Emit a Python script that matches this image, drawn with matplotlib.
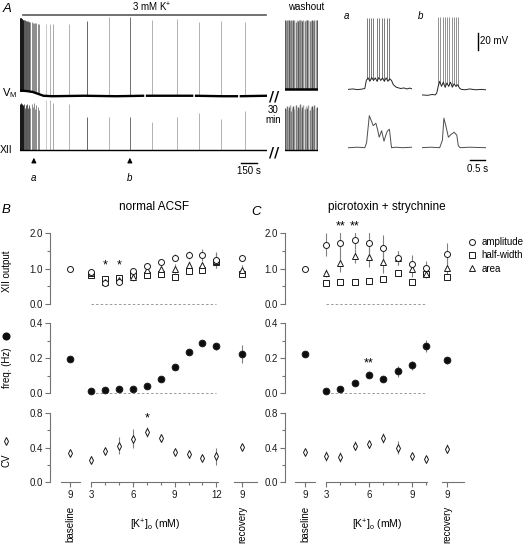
# Recreation of the K+ / XII output figure (panels A, B, C)
import numpy as np
import matplotlib
matplotlib.use("Agg")
import matplotlib.pyplot as plt
import matplotlib.transforms as mtransforms
from matplotlib.lines import Line2D

plt.rcParams['font.family'] = ['Liberation Sans', 'DejaVu Sans']
plt.rcParams['mathtext.fontset'] = 'custom'
plt.rcParams['mathtext.rm'] = 'Liberation Sans'
plt.rcParams['mathtext.it'] = 'Liberation Sans:italic'

W, H = 529, 548

# ---------------- panel A data ----------------
# main recording, time in s
burst_t = [0, 3, 6, 9, 12, 15, 19, 23, 27, 31, 36, 41, 47, 53, 59, 66, 73, 81,
           89, 98, 108, 118, 129, 140, 152, 165, 178]
burst_vm_peak = [17, 17, 16.5, 16.5, 16, 16, 15.5, 15.5, 15, 15, 15, 14.5, 14.5, 14,
                 14, 13.5, 13.5, 13, 13, 12.5, 12.5, 12, 12, 11.5, 11.5, 11, 11]
burst_xii_peak = [0.92, 0.9, 0.94, 0.88, 0.92, 0.86, 0.9, 0.93, 0.85, 0.9, 0.88, 0.92,
                  0.84, 0.9, 0.86, 0.93, 0.85, 0.88, 0.9, 0.84, 0.92, 0.86, 0.95, 0.82,
                  0.9, 0.86, 0.8]
late_t = [245, 280, 310, 460, 625, 830, 1030, 1240, 1470, 1680, 1885, 2110]
late_vm_peak = [11, 11, 10, 11, 14, 18, 17.5, 14.5, 15.5, 12.7, 13.7, 12.7]
late_xii_peak = [1.0, 1.0, 0.95, 0.93, 0.67, 0.67, 0.67, 0.57, 0.67, 0.75, 0.62, 0.78]
vm_base_t = [0, 60, 120, 170, 220, 300, 600, 900, 1165, 1172, 1180, 1500, 1625, 1632,
             1640, 1900, 2045, 2052, 2060, 2316]
vm_base_v = [-60, -60.5, -61.5, -63.5, -65.5, -66, -65.5, -66, -65.5, np.nan, -65.5,
             -65.5, -65.5, np.nan, -65.5, -66, -66, np.nan, -66, -65.5]

# washout recording
wash_t = [3, 12, 22, 30, 41, 50, 58, 70, 79, 88, 100, 110, 121, 130, 140, 152, 162,
          172, 185, 196, 206, 218, 230, 241, 252, 264, 275, 288, 298, 306]
wash_vm_peak = [15, 14, 15, 14.5, 15, 13.5, 15, 14, 15, 14.5, 13, 15, 14, 15, 14.5,
                15, 13.5, 15, 14, 15, 14.5, 15, 14, 13.5, 15, 14, 15, 14.5, 15, 14]
wash_xii_peak = [0.85, 0.82, 0.88, 0.8, 0.86, 0.9, 0.78, 0.84, 0.88, 0.82, 0.9, 0.8,
                 0.86, 0.84, 0.92, 0.8, 0.86, 0.9, 0.82, 0.88, 0.84, 0.9, 0.8, 0.86,
                 0.88, 0.82, 0.9, 0.84, 0.86, 0.8]

# expanded bursts a and b (time in s, Vm in mV, XII in a.u.)
ins_a_t = [0, 0.15, 0.3, 0.45, 0.55, 0.60, 0.66, 0.72, 0.78, 0.84, 0.90, 0.96, 1.02,
           1.08, 1.14, 1.20, 1.26, 1.32, 1.38, 1.44, 1.50, 1.60, 1.75, 1.85, 1.95,
           2.05, 2.13]
ins_a_v = [-63.5, -63, -63.8, -63.2, -62.5, -53, -50, -54, -49.5, -53, -50, -54, -49.5,
           -53, -50, -54, -50, -54, -51, -53, -58, -61, -62.5, -61.8, -63, -62, -63]
ins_a_spk = [0.63, 0.70, 0.75, 0.83, 0.95, 1.02, 1.11, 1.19, 1.28, 1.36]
ins_b_t = [0, 0.2, 0.35, 0.45, 0.5, 0.55, 0.6, 0.66, 0.72, 0.78, 0.84, 0.9, 0.96,
           1.02, 1.08, 1.14, 1.2, 1.26, 1.32, 1.45, 1.6, 1.8, 2.0, 2.13]
ins_b_v = [-70, -70.5, -69.5, -70, -68, -60, -54, -60, -55, -61, -56, -60, -55, -61,
           -57, -60, -58, -62, -63.5, -64, -63, -64, -63.5, -64]
ins_b_spk = [0.55, 0.61, 0.70, 0.78, 0.85, 0.92, 1.0, 1.08, 1.14, 1.22]
xii_a_t = [0, 0.3, 0.55, 0.61, 0.70, 0.76, 0.83, 0.92, 0.98, 1.03, 1.11, 1.19, 1.25,
           1.30, 1.37, 1.44, 1.6, 1.8, 2.13]
xii_a_v = [0, 0.01, 0, 0.1, 0.64, 0.55, 0.44, 0.49, 0.35, 0.21, 0.34, 0.13, 0.25,
           0.33, 0.37, 0.0, 0.01, 0, 0.01]
xii_b_t = [0, 0.3, 0.6, 0.69, 0.74, 0.80, 0.83, 0.89, 0.97, 1.08, 1.17, 1.22, 1.28,
           1.6, 2.13]
xii_b_v = [0, 0.01, 0, 0.15, 0.59, 0.45, 0.37, 0.21, 0.26, 0.31, 0.25, 0.04, 0,
           0.01, 0]

# ---------------- panels B / C data ----------------
conc_b = [3, 4, 5, 6, 7, 8, 9, 10, 11, 12]
amp_b = [0.90, 0.60, 0.63, 0.92, 1.08, 1.18, 1.31, 1.38, 1.39, 1.24]
amp_b_err = [0.1, 0.05, 0.05, 0.08, 0.08, 0.08, 0.1, 0.12, 0.18, 0.22]
hw_b = [0.83, 0.72, 0.74, 0.83, 0.83, 0.85, 0.76, 0.92, 0.97, 1.18]
hw_b_err = [0.05, 0.05, 0.05, 0.05, 0.04, 0.05, 0.06, 0.05, 0.05, 0.1]
area_b = [0.88, 0.62, 0.68, 0.76, 0.95, 1.0, 1.0, 1.11, 1.1, 1.23]
area_b_err = [0.1, 0.06, 0.06, 0.1, 0.08, 0.08, 0.12, 0.1, 0.1, 0.2]
freq_b = [0.012, 0.018, 0.025, 0.027, 0.04, 0.08, 0.148, 0.238, 0.29, 0.27]
freq_b_err = [0.003, 0.004, 0.004, 0.005, 0.006, 0.008, 0.01, 0.01, 0.01, 0.02]
cv_b = [0.26, 0.36, 0.42, 0.50, 0.58, 0.51, 0.35, 0.32, 0.275, 0.30]
cv_b_err = [0.04, 0.04, 0.1, 0.11, 0.06, 0.05, 0.02, 0.04, 0.02, 0.1]
base_b = {'amp': 1.0, 'freq': 0.195, 'cv': 0.34}
rec_b = {'amp': 1.30, 'hw': 0.86, 'area': 0.97, 'freq': 0.225, 'cv': 0.41}
rec_b_err = {'amp': 0.05, 'hw': 0.08, 'area': 0.12, 'freq': 0.05, 'cv': 0.02}

conc_c = [3, 4, 5, 6, 7, 8, 9, 10]
amp_c = [1.68, 1.72, 1.82, 1.72, 1.58, 1.31, 1.14, 1.02]
amp_c_err = [0.33, 0.33, 0.26, 0.32, 0.38, 0.2, 0.26, 0.2]
hw_c = [0.58, 0.61, 0.61, 0.64, 0.71, 0.87, 0.61, 0.84]
hw_c_err = [0.03, 0.02, 0.02, 0.03, 0.03, 0.03, 0.03, 0.05]
area_c = [0.87, 1.16, 1.37, 1.34, 1.19, 1.29, 0.98, 0.86]
area_c_err = [0.12, 0.25, 0.2, 0.28, 0.32, 0.2, 0.22, 0.12]
freq_c = [0.015, 0.025, 0.06, 0.105, 0.08, 0.125, 0.16, 0.27]
freq_c_err = [0.003, 0.005, 0.01, 0.02, 0.015, 0.03, 0.025, 0.035]
cv_c = [0.30, 0.29, 0.42, 0.435, 0.51, 0.40, 0.30, 0.27]
cv_c_err = [0.06, 0.06, 0.05, 0.04, 0.06, 0.08, 0.04, 0.03]
base_c = {'amp': 1.0, 'freq': 0.225, 'cv': 0.35}
rec_c = {'amp': 1.42, 'hw': 0.76, 'area': 1.03, 'freq': 0.19, 'cv': 0.385}
rec_c_err = {'amp': 0.3, 'hw': 0.08, 'area': 0.3, 'freq': 0.02, 'cv': 0.05}


def box(left, top, width, height):
    return [left / W, 1 - (top + height) / H, width / W, height / H]


def fy(y):
    return 1 - y / H


fig = plt.figure(figsize=(W / 100, H / 100), dpi=100)

TXT = '0.1'
GRAY = '0.45'
ERR = '0.5'
SMALL = 7
MID = 7.5

# ================= panel A =================
T_MAIN = 2316
ax_vm = fig.add_axes(box(20, 15, 247, 85))
ax_xii = fig.add_axes(box(20, 95, 247, 60))
for ax in (ax_vm, ax_xii):
    ax.set_xlim(0, T_MAIN)
    ax.axis('off')
ax_vm.set_ylim(-70, 20)
ax_xii.set_ylim(-0.1, 1.1)

burst_cols = ['0.1'] * 10 + ['0.35'] * 9 + ['0.55'] * 8
late_cols = ['0.75', '0.65', '0.6', '0.65', '0.3', '0.65', '0.35', '0.65', '0.65', '0.65', '0.65', '0.65']
base_interp = np.interp(burst_t, [0, 60, 120, 170, 220], [-60, -60.5, -61.5, -63.5, -65.5])
ax_vm.vlines(burst_t, base_interp, burst_vm_peak, colors=burst_cols, lw=0.7)
ax_vm.vlines(late_t, -66, late_vm_peak, colors=late_cols, lw=0.6)
ax_vm.plot(vm_base_t, vm_base_v, color='k', lw=1.7, solid_capstyle='butt')

ax_xii.vlines(burst_t, 0, burst_xii_peak, colors=burst_cols, lw=0.7)
ax_xii.vlines(late_t, 0, late_xii_peak, colors=late_cols, lw=0.6)
ax_xii.plot([0, T_MAIN], [0, 0], color='k', lw=1.0)

# washout
ax_wvm = fig.add_axes(box(285, 15, 33, 85))
ax_wxii = fig.add_axes(box(285, 95, 33, 60))
for ax in (ax_wvm, ax_wxii):
    ax.set_xlim(0, 309)
    ax.axis('off')
ax_wvm.set_ylim(-70, 20)
ax_wxii.set_ylim(-0.1, 1.1)
wash_cols = [['0.3', '0.6', '0.45', '0.7'][i % 4] for i in range(len(wash_t))]
ax_wvm.vlines(wash_t, -58.5, wash_vm_peak, colors=wash_cols, lw=1.0)
ax_wvm.plot([0, 309], [-58.5, -58.5], color='k', lw=1.8)
ax_wxii.vlines(wash_t, 0, wash_xii_peak, colors=wash_cols, lw=1.0)
ax_wxii.plot([0, 309], [0, 0], color='k', lw=1.0)

# labels of panel A
fig.text(7 / W, fy(9), 'A', style='italic', fontsize=9.5, ha='center', va='center')
fig.text(152 / W, fy(7), r'3 mM K$^{+}$', fontsize=SMALL, ha='center', va='center')
fig.add_artist(Line2D([23 / W, 266 / W], [fy(14.5), fy(14.5)], color='0.35', lw=1.2))
fig.text(306 / W, fy(7), 'washout', fontsize=SMALL, ha='center', va='center')
fig.text(2 / W, fy(93), r'V$_{\rm M}$', fontsize=8, ha='left', va='center')
fig.text(0 / W, fy(150), 'XII', fontsize=7.5, ha='left', va='center')
fig.text(274 / W, fy(96), '//', fontsize=10, ha='center', va='center', fontweight='bold',
         family='DejaVu Sans')
fig.text(274 / W, fy(152), '//', fontsize=10, ha='center', va='center', fontweight='bold',
         family='DejaVu Sans')
fig.text(273 / W, fy(115), '30\nmin', fontsize=SMALL, ha='center', va='center', linespacing=1.0)

for t_mark, lab in ((130, 'a'), (1030, 'b')):
    ax_xii.annotate('', xy=(t_mark, fy(155)), xytext=(t_mark, fy(165)),
                    xycoords=('data', 'figure fraction'), textcoords=('data', 'figure fraction'),
                    arrowprops=dict(arrowstyle='-|>', color='k', lw=0.8, mutation_scale=7),
                    annotation_clip=False)
    ax_xii.annotate(lab, xy=(t_mark, fy(178)), xycoords=('data', 'figure fraction'),
                    ha='center', va='center', style='italic', fontsize=SMALL, annotation_clip=False)

# 150 s scale bar
ax_xii.plot([2070, 2220], [-0.26, -0.26], color='k', lw=1.0, clip_on=False)
ax_xii.text(2145, -0.42, '150 s', fontsize=SMALL, ha='center', va='center')

# expanded bursts
T_INS = 64 / 30
ax_ia = fig.add_axes(box(348.3, 12, 64, 88))
ax_ib = fig.add_axes(box(421.7, 12, 64, 88))
ax_xa = fig.add_axes(box(348.3, 100, 64, 52))
ax_xb = fig.add_axes(box(421.7, 100, 64, 52))
for ax in (ax_ia, ax_ib, ax_xa, ax_xb):
    ax.set_xlim(0, T_INS)
    ax.axis('off')
for ax in (ax_ia, ax_ib):
    ax.set_ylim(-76, 27.5)
for ax in (ax_xa, ax_xb):
    ax.set_ylim(-0.086, 0.954)

ax_ia.vlines(ins_a_spk, np.interp(ins_a_spk, ins_a_t, ins_a_v), 21, colors='0.4', lw=0.6)
ax_ia.plot(ins_a_t, ins_a_v, color='0.15', lw=0.7)
ax_ib.vlines(ins_b_spk, np.interp(ins_b_spk, ins_b_t, ins_b_v), 22, colors='0.5', lw=0.6)
ax_ib.plot(ins_b_t, ins_b_v, color='0.15', lw=0.7)
ax_xa.plot(xii_a_t, xii_a_v, color='0.3', lw=0.7)
ax_xb.plot(xii_b_t, xii_b_v, color='0.3', lw=0.7)

fig.text(346 / W, fy(16), 'a', style='italic', fontsize=SMALL, ha='center', va='center')
fig.text(421 / W, fy(16), 'b', style='italic', fontsize=SMALL, ha='center', va='center')
# 20 mV and 0.5 s bars
ax_ib.plot([1.88, 1.88], [-17, 3], color='k', lw=1.0, clip_on=False)
ax_ib.text(1.95, -7, '20 mV', fontsize=SMALL, ha='left', va='center')
ax_xb.plot([1.61, 2.11], [-0.24, -0.24], color='k', lw=1.0, clip_on=False)
ax_xb.text(1.86, -0.42, '0.5 s', fontsize=SMALL, ha='center', va='center')


# ================= panels B and C =================
def style_left(ax, ticks, minor):
    for s in ('top', 'right', 'bottom'):
        ax.spines[s].set_visible(False)
    ax.spines['left'].set_color(GRAY)
    ax.spines['left'].set_linewidth(0.8)
    ax.set_yticks(ticks)
    ax.set_yticks(minor, minor=True)
    ax.set_yticklabels(['%.1f' % t for t in ticks])
    ax.tick_params(axis='y', which='both', colors=GRAY, labelcolor=TXT, labelsize=SMALL,
                   direction='out', width=0.8, pad=1.5)
    ax.tick_params(axis='y', which='major', length=3.5)
    ax.tick_params(axis='y', which='minor', length=2.5)
    ax.set_ylim(ticks[0], ticks[-1])
    ax.patch.set_visible(False)


def points(ax, xs, ys, errs, marker, ms, filled=False, z=3):
    ax.errorbar(xs, ys, yerr=errs, fmt='none', ecolor=ERR, elinewidth=0.8, capsize=0, zorder=2)
    ax.plot(xs, ys, ls='none', marker=marker, ms=ms, mew=0.7, mec='0.1',
            mfc='0.05' if filled else 'white', zorder=z, clip_on=False)


def draw_condition(left, xlim, px_per, conc, base_x, rec_x, segs, dash_end,
                   amp, amp_e, hw, hw_e, area, area_e, freq, freq_e, cv, cv_e,
                   base, rec, rec_e):
    width = (xlim[1] - xlim[0]) * px_per
    ax1 = fig.add_axes(box(left, 233.3, width, 70.7))
    ax2 = fig.add_axes(box(left, 323.3, width, 70))
    ax3 = fig.add_axes(box(left, 413, width, 69))
    style_left(ax1, [0.0, 1.0, 2.0], [0.5, 1.5])
    style_left(ax2, [0.0, 0.2, 0.4], [0.1, 0.3])
    style_left(ax3, [0.0, 0.4, 0.8], [0.2, 0.6])
    for ax in (ax1, ax2):
        ax.set_xlim(*xlim)
        ax.set_xticks([])
        ax.plot([3, dash_end], [0, 0], ls=(0, (3, 2.5)), color='0.55', lw=0.6,
                clip_on=False, zorder=1)
    ax3.set_xlim(*xlim)
    xs = [base_x] + conc + [rec_x]
    xs_nb = conc + [rec_x]

    # XII output (baseline is the normalisation point, shown once as a circle)
    points(ax1, xs_nb, hw + [rec['hw']], hw_e + [rec_e['hw']], 's', 3.8)
    points(ax1, xs_nb, area + [rec['area']], area_e + [rec_e['area']], '^', 4.2)
    points(ax1, xs, [base['amp']] + amp + [rec['amp']], [0] + amp_e + [rec_e['amp']], 'o', 4.3, z=4)
    # frequency
    points(ax2, xs, [base['freq']] + freq + [rec['freq']], [0] + freq_e + [rec_e['freq']], 'o', 4.8, filled=True)
    # CV
    points(ax3, xs, [base['cv']] + cv + [rec['cv']], [0] + cv_e + [rec_e['cv']], 'd', 4.0)

    # broken x axis
    trans = mtransforms.blended_transform_factory(ax3.transData, ax3.transAxes)
    for a, b in segs:
        ax3.plot([a, b], [0, 0], color=GRAY, lw=0.8, transform=trans, clip_on=False)
    major = [base_x] + [c for c in conc if c % 3 == 0] + [rec_x]
    ax3.set_xticks(major)
    ax3.set_xticklabels(['9'] + [str(c) for c in conc if c % 3 == 0] + ['9'])
    ax3.set_xticks([c for c in conc if c % 3 != 0], minor=True)
    ax3.tick_params(axis='x', which='both', colors=GRAY, labelcolor=TXT, labelsize=SMALL,
                    direction='out', width=0.8, pad=2.5)
    ax3.tick_params(axis='x', which='major', length=3.5)
    ax3.tick_params(axis='x', which='minor', length=2.5)
    ax3.text(base_x, -0.35, 'baseline', rotation=90, ha='center', va='top', fontsize=SMALL,
             transform=trans)
    ax3.text(rec_x, -0.35, 'recovery', rotation=90, ha='center', va='top', fontsize=SMALL,
             transform=trans)
    ax3.text((3 + conc[-1]) / 2 + 0.1, -0.63, r'[K$^{+}$]$_{\rm o}$ (mM)', ha='center',
             va='center', fontsize=MID, transform=trans)
    return ax1, ax2, ax3


b1, b2, b3 = draw_condition(49.5, (0, 15), 13.9, conc_b, 1.5, 13.85,
                            [(0.8, 2.2), (3, 12.15), (13.3, 14.95)], 12,
                            amp_b, amp_b_err, hw_b, hw_b_err, area_b, area_b_err,
                            freq_b, freq_b_err, cv_b, cv_b_err, base_b, rec_b, rec_b_err)
c1, c2, c3 = draw_condition(285, (0.14, 12.3), 14.33, conc_c, 1.53, 11.47,
                            [(0.84, 2.23), (3, 10.05), (11.1, 12.6)], 10,
                            amp_c, amp_c_err, hw_c, hw_c_err, area_c, area_c_err,
                            freq_c, freq_c_err, cv_c, cv_c_err, base_c, rec_c, rec_c_err)

# significance marks
for x in (4, 5):
    b1.text(x, 1.08, '*', ha='center', va='center', fontsize=9)
    c1.text(x, 2.2, '**', ha='center', va='center', fontsize=9)
b3.text(7, 0.74, '*', ha='center', va='center', fontsize=9)
c2.text(6, 0.17, '**', ha='center', va='center', fontsize=9)

# y labels
fig.text(7 / W, fy(271), 'XII output', rotation=90, ha='center', va='center', fontsize=SMALL)
fig.text(7 / W, fy(368), 'freq. (Hz)', rotation=90, ha='center', va='center', fontsize=SMALL)
fig.add_artist(Line2D([6 / W], [fy(336)], marker='o', ms=4.8, mfc='0.05', mec='0.05', ls='none'))
fig.text(7 / W, fy(460), 'CV', rotation=90, ha='center', va='center', fontsize=SMALL)
fig.add_artist(Line2D([6 / W], [fy(441)], marker='d', ms=4.0, mfc='white', mec='0.1', mew=0.7, ls='none'))

# titles and panel letters
fig.text(6 / W, fy(210), 'B', style='italic', fontsize=9.5, ha='center', va='center')
fig.text(256 / W, fy(212), 'C', style='italic', fontsize=9.5, ha='center', va='center')
fig.text(154 / W, fy(207), 'normal ACSF', fontsize=8.5, ha='center', va='center')
fig.text(387 / W, fy(207), 'picrotoxin + strychnine', fontsize=8.5, ha='center', va='center')

# legend
handles = [Line2D([], [], ls='none', marker='o', ms=4.3, mfc='white', mec='0.1', mew=0.7),
           Line2D([], [], ls='none', marker='s', ms=3.8, mfc='white', mec='0.1', mew=0.7),
           Line2D([], [], ls='none', marker='^', ms=4.2, mfc='white', mec='0.1', mew=0.7)]
fig.legend(handles, ['amplitude', 'half-width', 'area'], loc='upper left',
           bbox_to_anchor=(468 / W, fy(237)), frameon=False, fontsize=SMALL,
           handlelength=0.8, handletextpad=0.6, labelspacing=0.35, borderpad=0,
           borderaxespad=0)

fig.savefig('out.png', dpi=100)
